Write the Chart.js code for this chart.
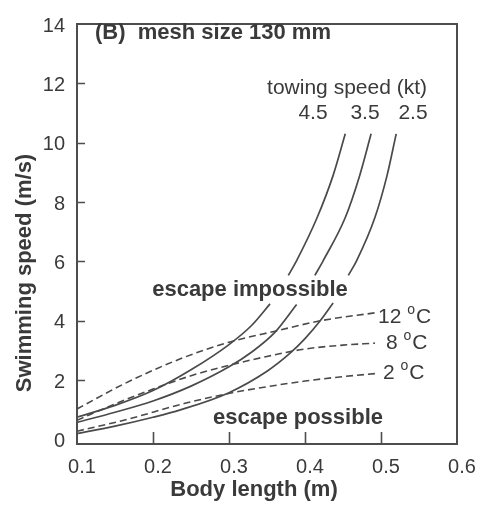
<!DOCTYPE html>
<html>
<head>
<meta charset="utf-8">
<script src="https://cdn.jsdelivr.net/npm/chart.js@4.4.1/dist/chart.umd.min.js"></script>
<style>
    html, body { margin: 0; padding: 0; background: #fff; }
</style>
</head>
<body>
<canvas id="meshChart" width="482" height="506"></canvas>
<script>
// ==================== 数据 ====================
const xTicks = [0.1, 0.2, 0.3, 0.4, 0.5, 0.6];
const yTicks = [0, 2, 4, 6, 8, 10, 12, 14];
const towingSpeeds = ['4.5', '3.5', '2.5'];
const temperatures = ['12', '8', '2'];

// [body length (m), swimming speed (m/s)]，null = 曲线断开
const tow45 = [[0.1, 0.75], [0.15, 1.15], [0.2, 1.65], [0.25, 2.35], [0.3, 3.2], [0.33, 3.85], [0.354, 4.57],
    [0.366, null], [0.378, 5.53], [0.389, 6.03], [0.416, 7.48], [0.437, 8.9], [0.453, 10.3]];
const tow35 = [[0.1, 0.58], [0.15, 0.92], [0.2, 1.3], [0.25, 1.8], [0.3, 2.45], [0.33, 2.95], [0.36, 3.6], [0.389, 4.55],
    [0.4, null], [0.413, 5.53], [0.424, 6.03], [0.453, 7.48], [0.472, 8.9], [0.487, 10.3]];
const tow25 = [[0.1, 0.2], [0.15, 0.45], [0.2, 0.75], [0.236, 1.0], [0.3, 1.58], [0.35, 2.3], [0.38, 2.9], [0.4, 3.4], [0.42, 4.0], [0.437, 4.6],
    [0.447, null], [0.457, 5.53], [0.468, 6.03], [0.492, 7.48], [0.508, 8.9], [0.52, 10.3]];

const temp12 = [[0.1, 1.03], [0.163, 1.89], [0.236, 2.72], [0.3, 3.28], [0.364, 3.67], [0.42, 4.0], [0.492, 4.27]];
const temp8 = [[0.1, 0.65], [0.15, 1.2], [0.2, 1.7], [0.25, 2.15], [0.3, 2.5], [0.35, 2.8], [0.4, 3.05], [0.45, 3.18], [0.492, 3.25]];
const temp2 = [[0.1, 0.28], [0.163, 0.66], [0.242, 1.22], [0.301, 1.56], [0.35, 1.78], [0.4, 1.97], [0.45, 2.12], [0.492, 2.22]];

const FONT = "'Liberation Sans', Arial, Helvetica, sans-serif";
const INK = '#3a3a3a';
const LINE = '#4a4a4a';

function toPoints(arr) {
    return arr.map(p => ({ x: p[0], y: p[1] }));
}

function lineSet(label, arr, dashed) {
    return {
        label: label,
        data: toPoints(arr),
        borderColor: LINE,
        borderWidth: dashed ? 1.6 : 1.7,
        borderDash: dashed ? [7, 4] : [],
        pointRadius: 0,
        fill: false,
        spanGaps: false,
        cubicInterpolationMode: 'monotone'
    };
}

// 边框、向内刻度和注释文字
const decorPlugin = {
    id: 'decor',
    afterDraw(chart) {
        const ctx = chart.ctx;
        const a = chart.chartArea;
        const xs = chart.scales.x;
        const ys = chart.scales.y;
        ctx.save();
        ctx.strokeStyle = '#4d4d4d';
        ctx.lineWidth = 2;
        ctx.strokeRect(a.left, a.top, a.right - a.left, a.bottom - a.top);

        ctx.lineWidth = 1.6;
        ctx.beginPath();
        xTicks.slice(1, -1).forEach(v => {
            const px = Math.round(xs.getPixelForValue(v)) + 0.5;
            ctx.moveTo(px, a.bottom);
            ctx.lineTo(px, a.bottom - 12);
        });
        yTicks.slice(1, -1).forEach(v => {
            const py = Math.round(ys.getPixelForValue(v)) + 0.5;
            ctx.moveTo(a.left, py);
            ctx.lineTo(a.left + 8, py);
        });
        ctx.stroke();

        ctx.fillStyle = INK;
        ctx.textBaseline = 'middle';

        ctx.font = `bold 22px ${FONT}`;
        ctx.textAlign = 'left';
        ctx.fillText('(B)  mesh size 130 mm', 95, 33);

        ctx.font = `21px ${FONT}`;
        ctx.textAlign = 'right';
        ctx.fillText('towing speed (kt)', 427, 88);
        ctx.textAlign = 'center';
        [313, 365, 413].forEach((px, i) => ctx.fillText(towingSpeeds[i], px, 113));

        ctx.font = `bold 22px ${FONT}`;
        ctx.fillText('escape impossible', 250, 290);
        ctx.fillText('escape possible', 298, 418);

        // 温度标签 (上标 o)
        [[378, 317], [386, 343], [383, 373]].forEach((pos, i) => {
            let x = pos[0];
            const y = pos[1];
            ctx.textAlign = 'left';
            ctx.font = `21px ${FONT}`;
            const head = temperatures[i] + ' ';
            ctx.fillText(head, x, y);
            x += ctx.measureText(head).width;
            ctx.font = `14px ${FONT}`;
            ctx.fillText('o', x, y - 7);
            x += ctx.measureText('o').width + 1;
            ctx.font = `21px ${FONT}`;
            ctx.fillText('C', x, y);
        });

        // 坐标轴标题
        ctx.font = `bold 22px ${FONT}`;
        ctx.textAlign = 'center';
        ctx.fillText('Body length (m)', 254, 490);
        ctx.translate(25, 273);
        ctx.rotate(-Math.PI / 2);
        ctx.fillText('Swimming speed (m/s)', 0, 0);
        ctx.restore();
    }
};

new Chart(document.getElementById('meshChart'), {
    type: 'line',
    data: {
        datasets: [
            lineSet('4.5 kt', tow45, false),
            lineSet('3.5 kt', tow35, false),
            lineSet('2.5 kt', tow25, false),
            lineSet('12 °C', temp12, true),
            lineSet('8 °C', temp8, true),
            lineSet('2 °C', temp2, true)
        ]
    },
    options: {
        responsive: false,
        animation: false,
        devicePixelRatio: 1,
        layout: { padding: { left: 0, right: 25, top: 16, bottom: 0 } },
        plugins: {
            legend: { display: false },
            tooltip: { enabled: false }
        },
        scales: {
            x: {
                type: 'linear',
                min: 0.1,
                max: 0.6,
                afterBuildTicks: s => { s.ticks = xTicks.map(v => ({ value: v })); },
                afterFit: s => { s.height = 62; },
                grid: { display: false, drawTicks: false },
                border: { display: false },
                ticks: {
                    color: INK,
                    font: { size: 20, family: FONT },
                    padding: 11,
                    labelOffset: 5,
                    maxRotation: 0,
                    autoSkip: false,
                    callback: v => v.toFixed(1)
                }
            },
            y: {
                type: 'linear',
                min: -0.15,
                max: 14,
                afterBuildTicks: s => { s.ticks = yTicks.map(v => ({ value: v })); },
                afterFit: s => { s.width = 77; },
                grid: { display: false, drawTicks: false },
                border: { display: false },
                ticks: {
                    color: INK,
                    font: { size: 20, family: FONT },
                    padding: 12,
                    labelOffset: 2,
                    autoSkip: false,
                    callback: v => String(v)
                }
            }
        }
    },
    plugins: [decorPlugin]
});
</script>
</body>
</html>
